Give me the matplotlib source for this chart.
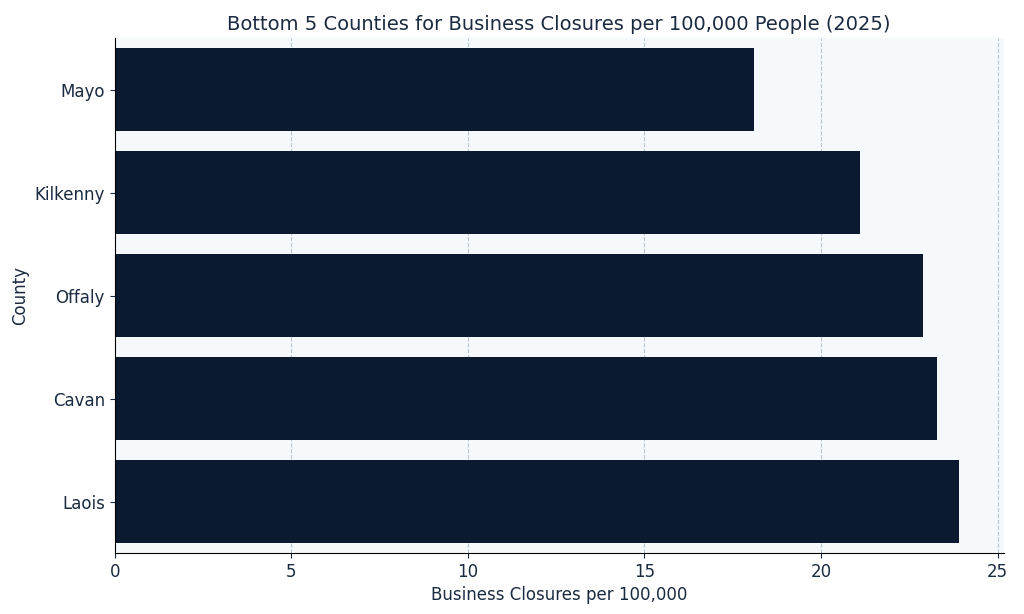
import matplotlib
matplotlib.use("Agg")
import matplotlib.pyplot as plt

counties = ["Laois", "Cavan", "Offaly", "Kilkenny", "Mayo"]
closures = [23.9, 23.3, 22.9, 21.1, 18.1]

text_color = "#1a2a40"
fig = plt.figure(figsize=(10.24, 6.14), dpi=100)
ax = fig.add_axes([0.112, 0.099, 0.868, 0.839])
ax.set_facecolor("#f5f9fc")
ax.barh(counties, closures, height=0.8, color="#0b1a30")
ax.set_xlim(0, 25.17)
ax.set_ylim(-0.5, 4.5)
ax.set_xticks([0, 5, 10, 15, 20, 25])
ax.grid(axis="x", linestyle="--", color="#b8c4d0", linewidth=0.8)
ax.set_axisbelow(True)
for s in ["top", "right"]:
    ax.spines[s].set_visible(False)
ax.tick_params(colors=text_color, labelsize=12)
ax.set_xlabel("Business Closures per 100,000", fontsize=12, color=text_color)
ax.set_ylabel("County", fontsize=12, color=text_color)
ax.set_title("Bottom 5 Counties for Business Closures per 100,000 People (2025)",
             fontsize=14, color=text_color, pad=6)
fig.savefig("out.png", dpi=100)
